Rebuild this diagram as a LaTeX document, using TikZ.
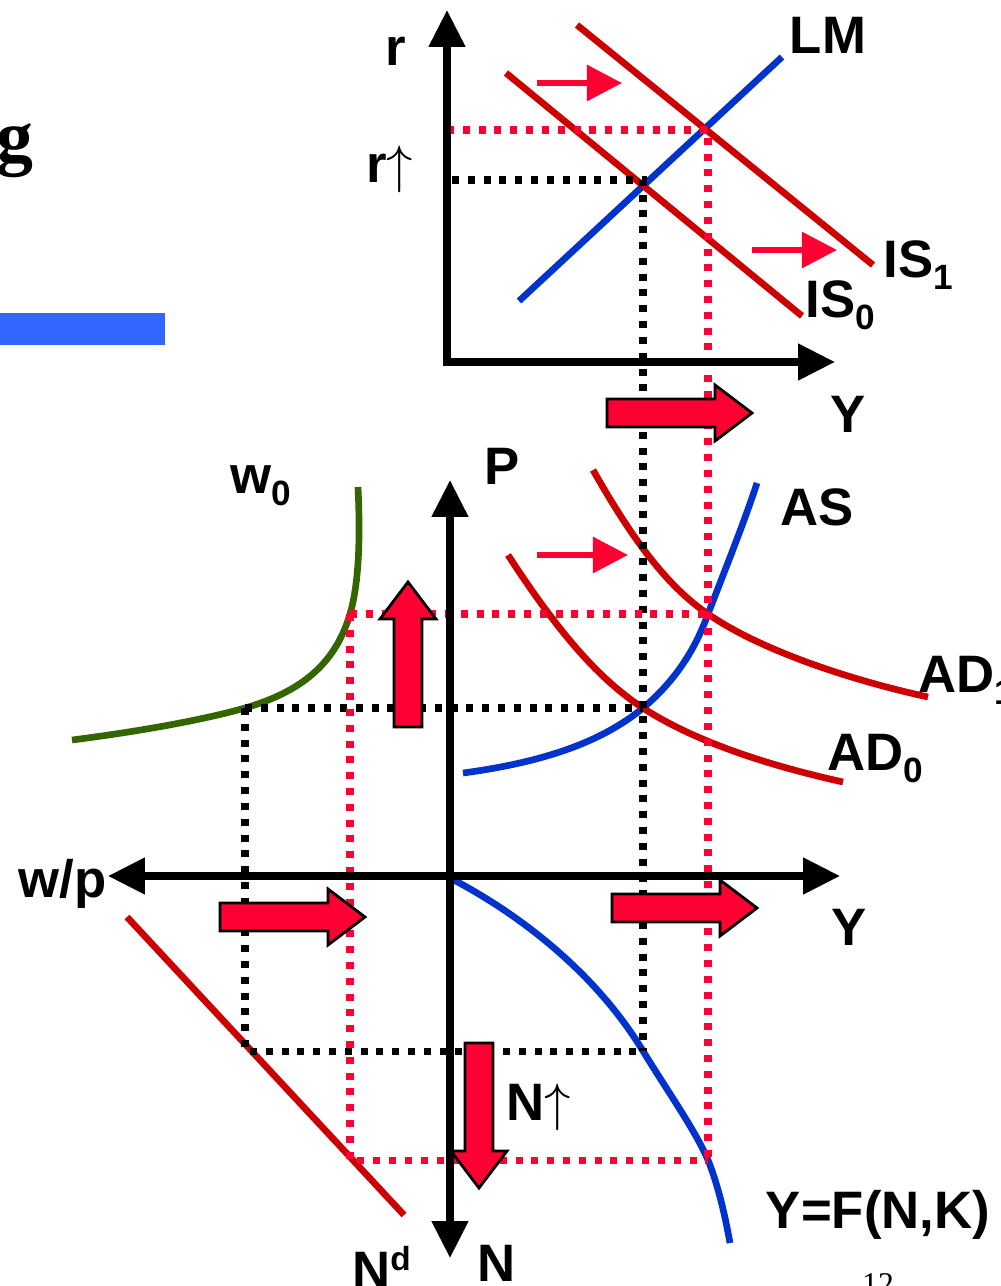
\RequirePackage{fix-cm}
\documentclass[tikz,border=0pt]{standalone}
\usepackage{fontspec}
\setmainfont{Liberation Sans}
\newfontfamily\titleserif{Liberation Serif}
\usetikzlibrary{arrows.meta}

\definecolor{curvered}{HTML}{CC0000}
\definecolor{curveblue}{HTML}{0033CC}
\definecolor{curvegreen}{HTML}{336600}
\definecolor{shiftred}{HTML}{FF0033}
\definecolor{barblue}{HTML}{3366FF}

\tikzset{
  axis/.style={line width=4.2pt, line join=miter,
    {Triangle[length=21pt,width=20pt]}-{Triangle[length=21pt,width=20pt]}},
  curve/.style={line width=3.8pt},
  dotline/.style={line width=4pt, dash pattern=on 4pt off 5pt},
  shiftarrow/.style={shiftred, line width=3.4pt, -{Triangle[length=20pt,width=20pt]}},
  fatarrow/.style={draw=black, fill=shiftred, line width=1.6pt, line join=miter},
  lbl/.style={font=\fontsize{30}{36}\selectfont\bfseries, inner sep=0pt}
}

% small lowered index for the curve names
\newcommand\lowsub[1]{\raisebox{-7pt}{\fontsize{20}{24}\selectfont #1}}
% block arrow: tail centre, direction
\newcommand\fatarrow[3]{%
  \draw[fatarrow, shift={(#1,#2)}, rotate=#3]
    (0,-14) -- (108,-14) -- (108,-28) -- (145,0) -- (108,28) -- (108,14) -- (0,14) -- cycle;}

\begin{document}
\begin{tikzpicture}[x=0.02cm, y=-0.02cm]
  \useasboundingbox (0,0) rectangle (1001,1286);

  % title remains on the left
  \node[font=\titleserif\bfseries\fontsize{42}{44}\selectfont, anchor=base east, inner sep=0pt] (gtitle) at (34,161) {g};
  \fill[barblue] (0,313) rectangle (165,345);

  % key points
  \coordinate (O1) at (447,362);
  \coordinate (E0) at (643,180);
  \coordinate (E1) at (708,130);
  \coordinate (O2) at (450,876);
  \coordinate (A0) at (643,708);
  \coordinate (A1) at (708,614);
  \coordinate (W0) at (245,708);
  \coordinate (W1) at (350,614);
  \coordinate (F0) at (643,1051);
  \coordinate (F1) at (708,1160);
  \coordinate (D0) at (245,1051);
  \coordinate (D1) at (350,1160);

  % IS-LM
  \draw[curve, curveblue] (519,301) -- (782,57);
  \draw[curve, curvered] (506,73) -- (802,316);
  \draw[curve, curvered] (577,25) -- (873,265);

  % AS-AD
  \draw[curve, curveblue] (463,773) .. controls (560,760) and (610,735) .. (A0)
    .. controls (675,681) and (695,650) .. (A1)
    .. controls (725,570) and (745,520) .. (757,483);
  \draw[curve, curvered] (508,555) .. controls (560,635) and (600,680) .. (A0)
    .. controls (700,745) and (780,768) .. (843,782);
  \draw[curve, curvered] (593,470) .. controls (630,535) and (665,585) .. (A1)
    .. controls (760,650) and (850,680) .. (928,697);

  % wage curve
  \draw[curve, curvegreen] (72,740) .. controls (150,730) and (210,718) .. (W0)
    .. controls (300,692) and (335,665) .. (W1)
    .. controls (360,580) and (360,530) .. (358,487);

  % labour demand and production function
  \draw[curve, curvered] (127,917) -- (404,1215);
  \draw[curve, curveblue] (452,879) .. controls (530,920) and (600,980) .. (F0)
    .. controls (670,1095) and (695,1130) .. (F1)
    .. controls (718,1185) and (725,1215) .. (730,1243);

  % old equilibrium
  \draw[dotline, black] (452,180) -- (E0) -- (F0);
  \draw[dotline, black] (W0) -- (A0);
  \draw[dotline, black] (W0) -- (D0) -- (F0);
  % new equilibrium
  \draw[dotline, shiftred] (O1 |- E1) -- (E1) -- (F1);
  \draw[dotline, shiftred] (W1) -- (A1);
  \draw[dotline, shiftred] (W1) -- (D1) -- (F1);

  % axes
  \draw[axis] (447,10) -- (O1) -- (835,362);
  \draw[axis] (450,480) -- (450,1258);
  \draw[axis] (108,876) -- (840,876);

  % shifts
  \draw[shiftarrow] (537,83) -- (622,83);
  \draw[shiftarrow] (752,250) -- (837,250);
  \draw[shiftarrow] (537,555) -- (628,555);

  \fatarrow{607}{413}{0}
  \fatarrow{220}{917}{0}
  \fatarrow{612}{908}{0}
  \fatarrow{408}{727}{90}
  \fatarrow{479}{1043}{-90}

  % labels
  \node[lbl, anchor=base] (rlab) at (396,65) {r};
  \node[lbl, anchor=base west] (rup) at (366,182) {r$\uparrow$};
  \node[lbl, anchor=base] (lmlab) at (828,53) {LM};
  \node[lbl, anchor=base west] (isone) at (883,277) {IS\lowsub{1}};
  \node[lbl, anchor=base west] (iszero) at (805,317) {IS\lowsub{0}};
  \node[lbl, anchor=base] (ytop) at (848,432) {Y};
  \node[lbl, anchor=base] (plab) at (502,484) {P};
  \node[lbl, anchor=base west] (wzero) at (230,493) {w\lowsub{0}};
  \node[lbl, anchor=base west] (aslab) at (780,525) {AS};
  \node[lbl, anchor=base west] (adone) at (918,692) {AD\lowsub{1}};
  \node[lbl, anchor=base west] (adzero) at (827,770) {AD\lowsub{0}};
  \node[lbl, anchor=base west] (wplab) at (18,897) {w/p};
  \node[lbl, anchor=base] (ybot) at (849,945) {Y};
  \node[lbl, anchor=base west] (ndlab) at (352,1288) {N\raisebox{10pt}{\fontsize{19}{20}\selectfont d}};
  \node[lbl, anchor=base west] (nlab) at (477,1281) {N};
  \node[lbl, anchor=base west] (nup) at (506,1120) {N$\uparrow$};
  \node[lbl, anchor=base] (prodlab) at (878,1228) {Y=F(N,K)};
  \node[font=\titleserif\fontsize{18}{20}\selectfont, anchor=north, inner sep=0pt] (pagenum) at (878,1273) {12};
\end{tikzpicture}
\end{document}
